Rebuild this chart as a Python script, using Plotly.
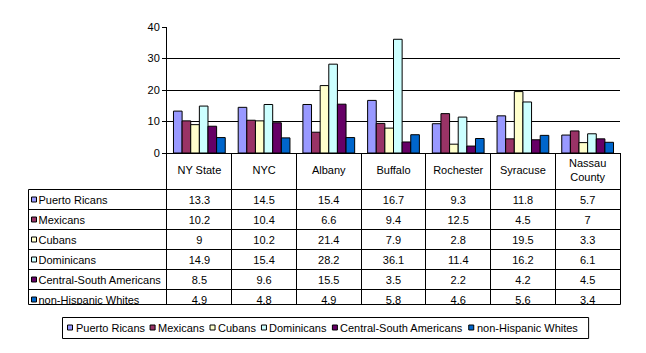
import plotly.graph_objects as go

# ---------------- data ----------------
categories = ["NY State", "NYC", "Albany", "Buffalo", "Rochester", "Syracuse", "Nassau County"]
header_labels = ["NY State", "NYC", "Albany", "Buffalo", "Rochester", "Syracuse", "Nassau<br>County"]
series_names = ["Puerto Ricans", "Mexicans", "Cubans", "Dominicans",
                "Central-South Americans", "non-Hispanic Whites"]
puerto_ricans = [13.3, 14.5, 15.4, 16.7, 9.3, 11.8, 5.7]
mexicans = [10.2, 10.4, 6.6, 9.4, 12.5, 4.5, 7]
cubans = [9, 10.2, 21.4, 7.9, 2.8, 19.5, 3.3]
dominicans = [14.9, 15.4, 28.2, 36.1, 11.4, 16.2, 6.1]
central_south = [8.5, 9.6, 15.5, 3.5, 2.2, 4.2, 4.5]
non_hisp_whites = [4.9, 4.8, 4.9, 5.8, 4.6, 5.6, 3.4]
series_values = [puerto_ricans, mexicans, cubans, dominicans, central_south, non_hisp_whites]
colors = ["#9999FF", "#993366", "#FFFFCC", "#CCFFFF", "#660066", "#0066CC"]
y_ticks = [0, 10, 20, 30, 40]

FONT = "Liberation Sans, Arial, sans-serif"

# ---------------- layout geometry (pixels) ----------------
W, H = 646, 353
L, R, T, B = 28, 620, 27, 340
PLOT_L, ZERO_Y = 167, 153
TABLE_BOTTOM = 305
HEADER_BOTTOM = 189.5
ROW_H = 20
HEADER_MID = 171.5
TEXT_DY = 1.5

def X(p):
    return (p - L) / (R - L)

def Y(p):
    return (B - p) / (B - T)

ncat = len(categories)
colw = (R - PLOT_L) / ncat

fig = go.Figure()

for name, vals, col in zip(series_names, series_values, colors):
    fig.add_trace(go.Bar(
        x=categories, y=vals, name=name,
        marker=dict(color=col, line=dict(color="black", width=1)),
        xaxis="x", yaxis="y", showlegend=False, hoverinfo="skip"))

col_centers = [PLOT_L + (i + 0.5) * colw for i in range(ncat)]

fig.add_trace(go.Scatter(
    x=col_centers, y=[HEADER_MID] * ncat, text=header_labels, mode="text",
    textposition="middle center", textfont=dict(family=FONT, size=11, color="black"),
    xaxis="x2", yaxis="y2", showlegend=False, hoverinfo="skip", cliponaxis=True))

shapes = []
for k, (name, vals, col) in enumerate(zip(series_names, series_values, colors)):
    yc = HEADER_BOTTOM + ROW_H * k + ROW_H / 2
    fig.add_trace(go.Scatter(
        x=col_centers, y=[yc + TEXT_DY] * ncat, text=[f"{v:g}" for v in vals], mode="text",
        textposition="middle center", textfont=dict(family=FONT, size=11, color="black"),
        xaxis="x2", yaxis="y2", showlegend=False, hoverinfo="skip", cliponaxis=True))
    fig.add_trace(go.Scatter(
        x=[38.5], y=[yc + TEXT_DY], text=[name], mode="text",
        textposition="middle right", textfont=dict(family=FONT, size=11, color="black"),
        xaxis="x2", yaxis="y2", showlegend=False, hoverinfo="skip", cliponaxis=True))
    shapes.append(dict(type="rect", xref="paper", yref="paper",
                       x0=X(31.5), x1=X(36.5), y0=Y(yc - 2.5), y1=Y(yc + 2.5),
                       fillcolor=col, line=dict(color="black", width=1), layer="above"))

line_style = dict(color="black", width=1)
for k in range(6):
    yy = HEADER_BOTTOM + ROW_H * k
    shapes.append(dict(type="line", xref="paper", yref="paper",
                       x0=X(28.5), x1=X(620.5), y0=Y(yy), y1=Y(yy), line=line_style, layer="above"))
shapes.append(dict(type="line", xref="paper", yref="paper",
                   x0=X(28.5), x1=X(620.5), y0=Y(TABLE_BOTTOM - 0.5), y1=Y(TABLE_BOTTOM - 0.5),
                   line=line_style, layer="above"))
shapes.append(dict(type="line", xref="paper", yref="paper",
                   x0=X(28.5), x1=X(28.5), y0=Y(HEADER_BOTTOM), y1=Y(TABLE_BOTTOM - 0.5),
                   line=line_style, layer="above"))
for i in range(ncat + 1):
    xx = int(PLOT_L + i * colw) + 0.5
    if i == 0:
        xx = PLOT_L - 0.5
    shapes.append(dict(type="line", xref="paper", yref="paper",
                       x0=X(xx), x1=X(xx), y0=Y(ZERO_Y), y1=Y(TABLE_BOTTOM - 0.5),
                       line=line_style, layer="above"))

# Arial / Liberation Sans advance widths (per 1000 em) for legend layout
AW = {' ': 278, '-': 333, 'A': 667, 'C': 722, 'D': 722, 'M': 833, 'P': 667, 'R': 722,
      'S': 667, 'W': 944, 'H': 722, 'a': 556, 'b': 556, 'c': 500, 'e': 556, 'h': 556,
      'i': 222, 'l': 222, 'm': 833, 'n': 556, 'o': 556, 'p': 556, 'r': 333, 's': 500,
      't': 278, 'u': 556, 'x': 500}

def text_w(s, size=11):
    return sum(AW.get(c, 556) for c in s) / 1000 * size

annotations = []
LEG_Y = 327.5
cx = 67.5
for name, col in zip(series_names, colors):
    shapes.append(dict(type="rect", xref="paper", yref="paper",
                       x0=X(cx), x1=X(cx + 5), y0=Y(LEG_Y - 2.5), y1=Y(LEG_Y + 2.5),
                       fillcolor=col, line=dict(color="black", width=1), layer="above"))
    annotations.append(dict(xref="paper", yref="paper", x=X(cx + 6), y=Y(LEG_Y),
                            xanchor="left", yanchor="middle", text=name, showarrow=False,
                            font=dict(family=FONT, size=11, color="black")))
    cx = cx + 7 + text_w(name) + 6.5
shapes.append(dict(type="rect", xref="paper", yref="paper",
                   x0=X(62.5), x1=X(cx + 5.5), y0=Y(317.5), y1=Y(338.5),
                   line=dict(color="black", width=1), fillcolor="rgba(0,0,0,0)", layer="above"))

fig.update_layout(
    width=W, height=H,
    margin=dict(l=L, r=W - R, t=T, b=H - B, pad=0),
    paper_bgcolor="white", plot_bgcolor="white",
    barmode="group", bargap=0.2, bargroupgap=0,
    font=dict(family=FONT, size=11, color="black"),
    xaxis=dict(domain=[X(PLOT_L), 1], anchor="y", showticklabels=False, ticks="",
               showgrid=False, zeroline=False, showline=True, linecolor="black", linewidth=1,
               range=[-0.5, ncat - 0.5], fixedrange=True, automargin=False),
    yaxis=dict(domain=[Y(ZERO_Y), 1], anchor="x", range=[0, 40], tickvals=y_ticks,
               showgrid=True, gridcolor="black", gridwidth=1, zeroline=False,
               showline=True, linecolor="black", linewidth=1,
               ticks="outside", ticklen=4, tickcolor="black", tickwidth=1,
               tickfont=dict(family=FONT, size=11, color="black"), fixedrange=True,
               automargin=False),
    xaxis2=dict(domain=[0, 1], anchor="y2", range=[L, R], visible=False, fixedrange=True,
                automargin=False),
    yaxis2=dict(domain=[Y(TABLE_BOTTOM), Y(ZERO_Y)], anchor="x2", range=[TABLE_BOTTOM, ZERO_Y],
                visible=False, fixedrange=True, automargin=False),
    shapes=shapes, annotations=annotations,
    showlegend=False,
)

fig.write_html("out.html")
